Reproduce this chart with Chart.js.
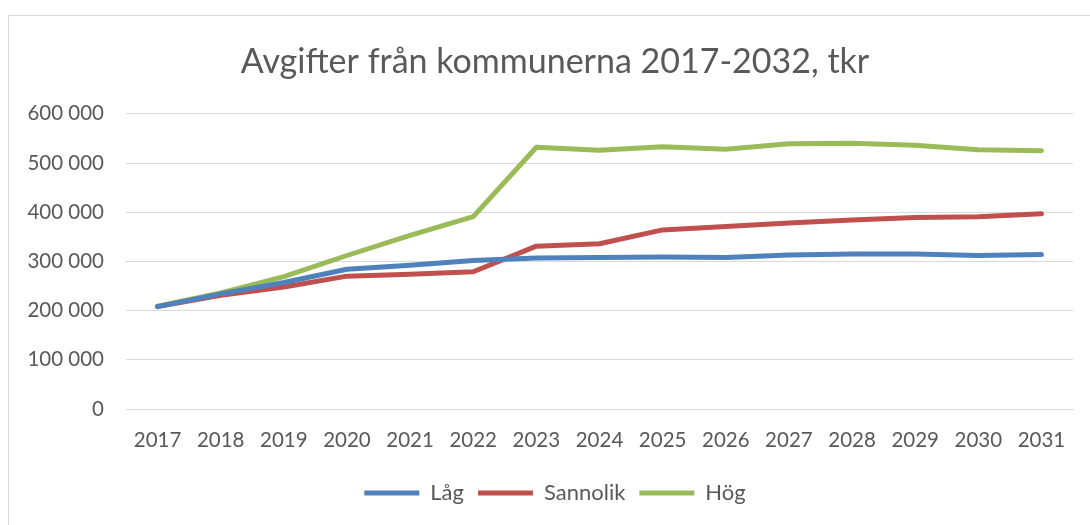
<!DOCTYPE html>
<html>
<head>
<meta charset="utf-8">
<script src="https://cdn.jsdelivr.net/npm/chart.js@4"></script>
<style>
  html, body { margin: 0; padding: 0; background: #fff; }
  #wrap { position: relative; width: 1090px; height: 525px; }
  #frame { position: absolute; left: 8px; top: 15px; width: 1100px; height: 530px;
           border-left: 1px solid #d9d9d9; border-top: 1px solid #d9d9d9; pointer-events: none; }
  canvas { position: absolute; left: 0; top: 0; }
</style>
</head>
<body>
<div id="wrap">
  <canvas id="c" width="1090" height="525"></canvas>
  <div id="frame"></div>
</div>
<script>
const years = ['2017','2018','2019','2020','2021','2022','2023','2024','2025','2026','2027','2028','2029','2030','2031'];
const lag      = [208000, 234000, 257000, 284000, 292000, 302000, 307000, 308000, 309000, 308000, 313000, 315000, 315000, 312000, 314000];
const sannolik = [208000, 231000, 248000, 270000, 274000, 279000, 331000, 336000, 364000, 371000, 378000, 384000, 389000, 391000, 397000];
const hog      = [209000, 236000, 269000, 312000, 353000, 391000, 532000, 526000, 533000, 528000, 539000, 540000, 536000, 527000, 525000];
const seriesNames = ['Låg', 'Sannolik', 'Hög'];
const titleText = 'Avgifter från kommunerna 2017-2032, tkr';

const FONT = 'Lato, "Open Sans", sans-serif';
const GREY = '#595959';

function fmt(v) {
  return String(v).replace(/\B(?=(\d{3})+(?!\d))/g, ' ');
}

const mk = (label, data, color) => ({
  label, data,
  borderColor: color, backgroundColor: color,
  borderWidth: 5, pointRadius: 0, pointHoverRadius: 0,
  borderCapStyle: 'round', borderJoinStyle: 'round',
  tension: 0, fill: false, pointStyle: 'line'
});

new Chart(document.getElementById('c'), {
  type: 'line',
  data: {
    labels: years,
    datasets: [
      mk(seriesNames[0], lag, '#4F81BD'),
      mk(seriesNames[1], sannolik, '#C0504D'),
      mk(seriesNames[2], hog, '#9BBB59')
    ]
  },
  options: {
    responsive: false,
    animation: false,
    events: [],
    layout: { padding: { left: 20, right: 0, top: 0, bottom: 11 } },
    plugins: {
      title: {
        display: true, text: titleText, color: GREY,
        font: { family: FONT, size: 34, weight: 'normal' },
        padding: { top: 42, bottom: 31 }
      },
      legend: {
        display: true, position: 'bottom',
        labels: {
          color: GREY, font: { family: FONT, size: 22 },
          usePointStyle: true, pointStyleWidth: 55, boxHeight: 20,
          padding: 14
        }
      },
      tooltip: { enabled: false }
    },
    scales: {
      x: {
        offset: true,
        grid: { display: false, drawTicks: false },
        border: { display: true, color: '#d9d9d9', width: 1 },
        ticks: { color: GREY, font: { family: FONT, size: 20.5 }, padding: 19, maxRotation: 0, autoSkip: false },
        afterFit: (s) => { s.height = 59; }
      },
      y: {
        min: 0, max: 600000,
        grid: { color: '#d9d9d9', lineWidth: 1, drawTicks: false },
        border: { display: false },
        ticks: { stepSize: 100000, color: GREY, font: { family: FONT, size: 20.5 }, padding: 22,
                 callback: (v) => fmt(v) },
        afterFit: (s) => { s.width = 106; }
      },
      yRight: {
        position: 'right', display: true, min: 0, max: 600000,
        grid: { display: false, drawTicks: false },
        border: { display: false },
        ticks: { display: false },
        afterFit: (s) => { s.width = 17; }
      }
    }
  }
});
</script>
</body>
</html>
